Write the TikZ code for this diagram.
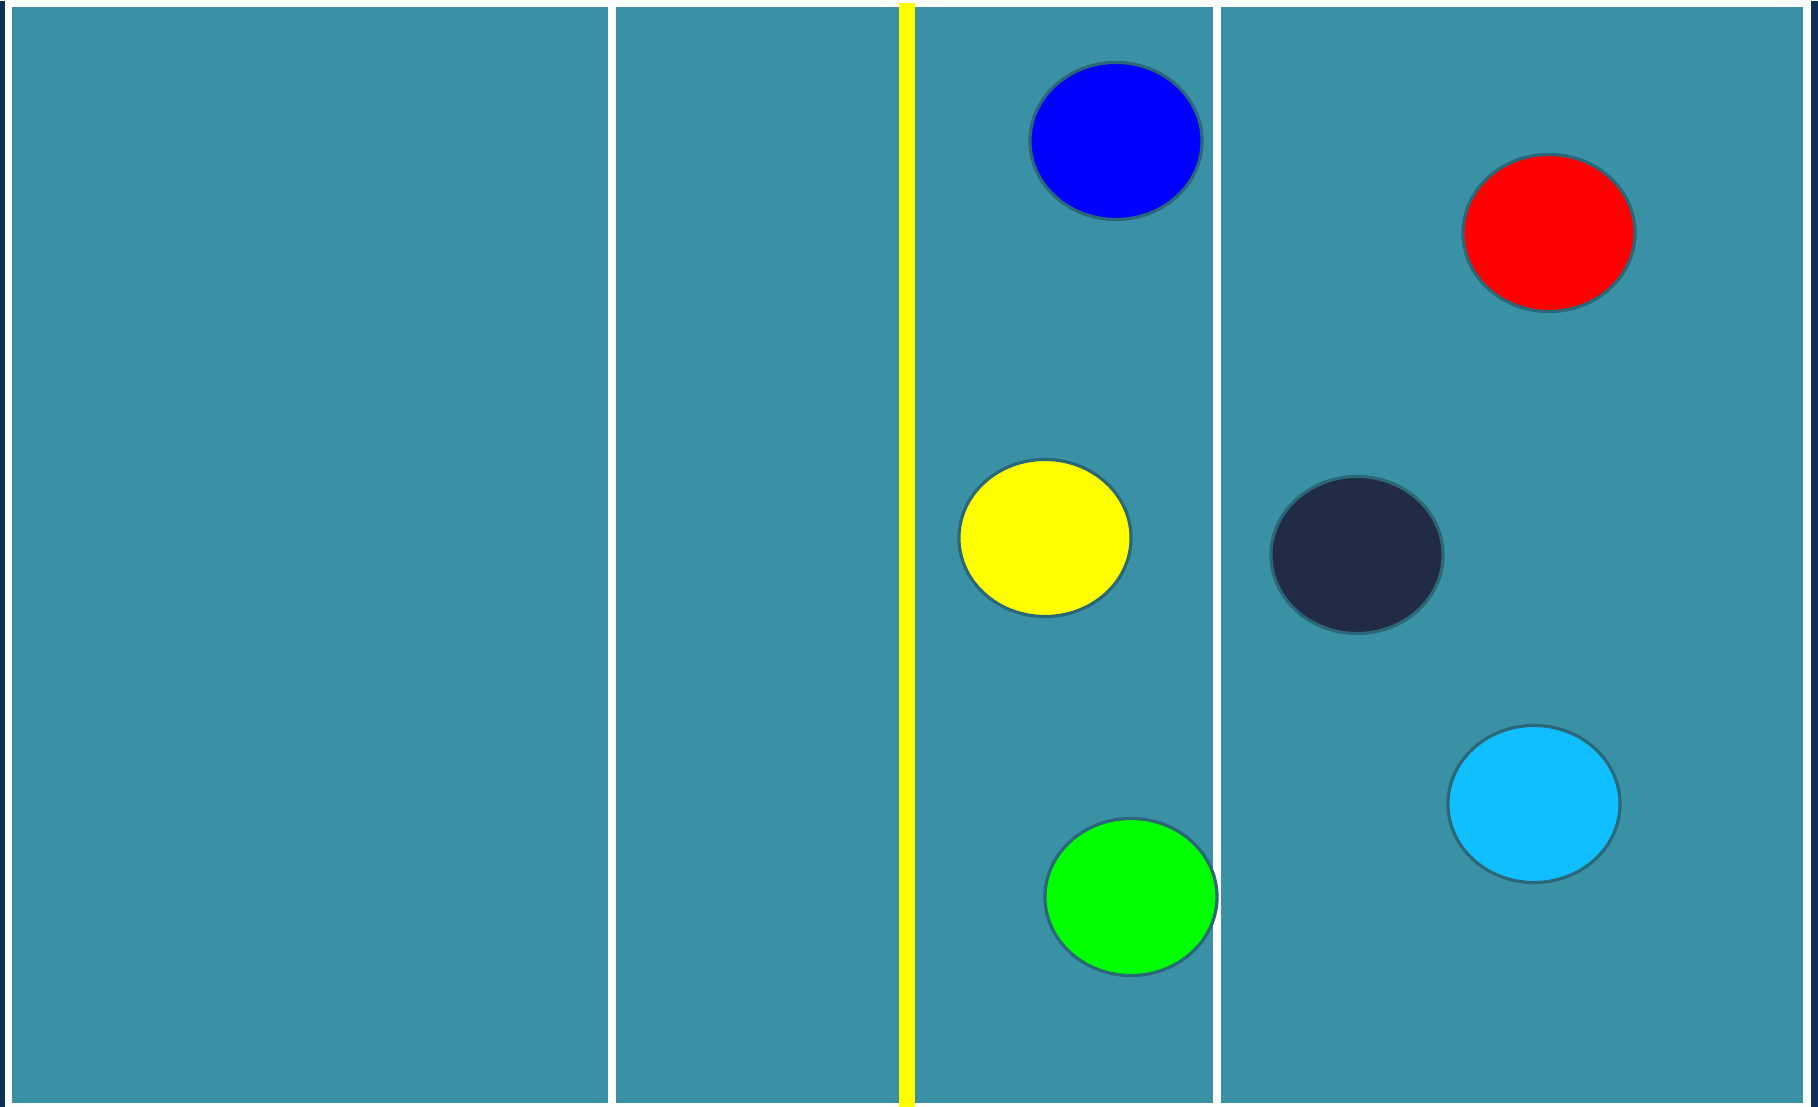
\documentclass[tikz,border=0pt]{standalone}
\usetikzlibrary{shapes.geometric}
\definecolor{feld}{HTML}{3A91A6}
\definecolor{rand}{HTML}{0B3254}
\definecolor{kreisrand}{HTML}{2A6878}
\definecolor{dunkel}{HTML}{222B45}
\definecolor{hellblau}{HTML}{0FBFFF}
\definecolor{gelbrein}{HTML}{FFFF00}
\tikzset{
    spieler/.style={ellipse, draw=kreisrand, line width=0.9pt, minimum width=1.72cm, minimum height=1.57cm, inner sep=0pt}
}
\begin{document}
\begin{tikzpicture}[x=0.01cm, y=-0.01cm]
    \useasboundingbox (0,0) rectangle (1818,1107);
    \fill[white] (0,0) rectangle (1818,1107);
    %Rand
    \fill[rand] (0,1) rectangle (4.5,1107);
    \fill[rand] (1811,1) rectangle (1818,1107);
    %Feld
    \fill[feld] (12,7.5) rectangle (1803,1103);
    %Linien
    \draw[white, line width=0.08cm] (612,7.5) -- (612,1103);
    \draw[white, line width=0.08cm] (1217,7.5) -- (1217,1103);
    \fill[gelbrein] (899,3) rectangle (915,1107);
    %Spieler
    \node[spieler, fill=blue] (blau) at (1116,141) {};
    \node[spieler, fill=red] (rot) at (1549,233) {};
    \node[spieler, fill=gelbrein] (gelb) at (1045,538) {};
    \node[spieler, fill=dunkel] (schwarz) at (1357,555) {};
    \node[spieler, fill=hellblau] (hellblau) at (1534,804) {};
    \node[spieler, fill=green] (gruen) at (1131,897) {};
\end{tikzpicture}
\end{document}
